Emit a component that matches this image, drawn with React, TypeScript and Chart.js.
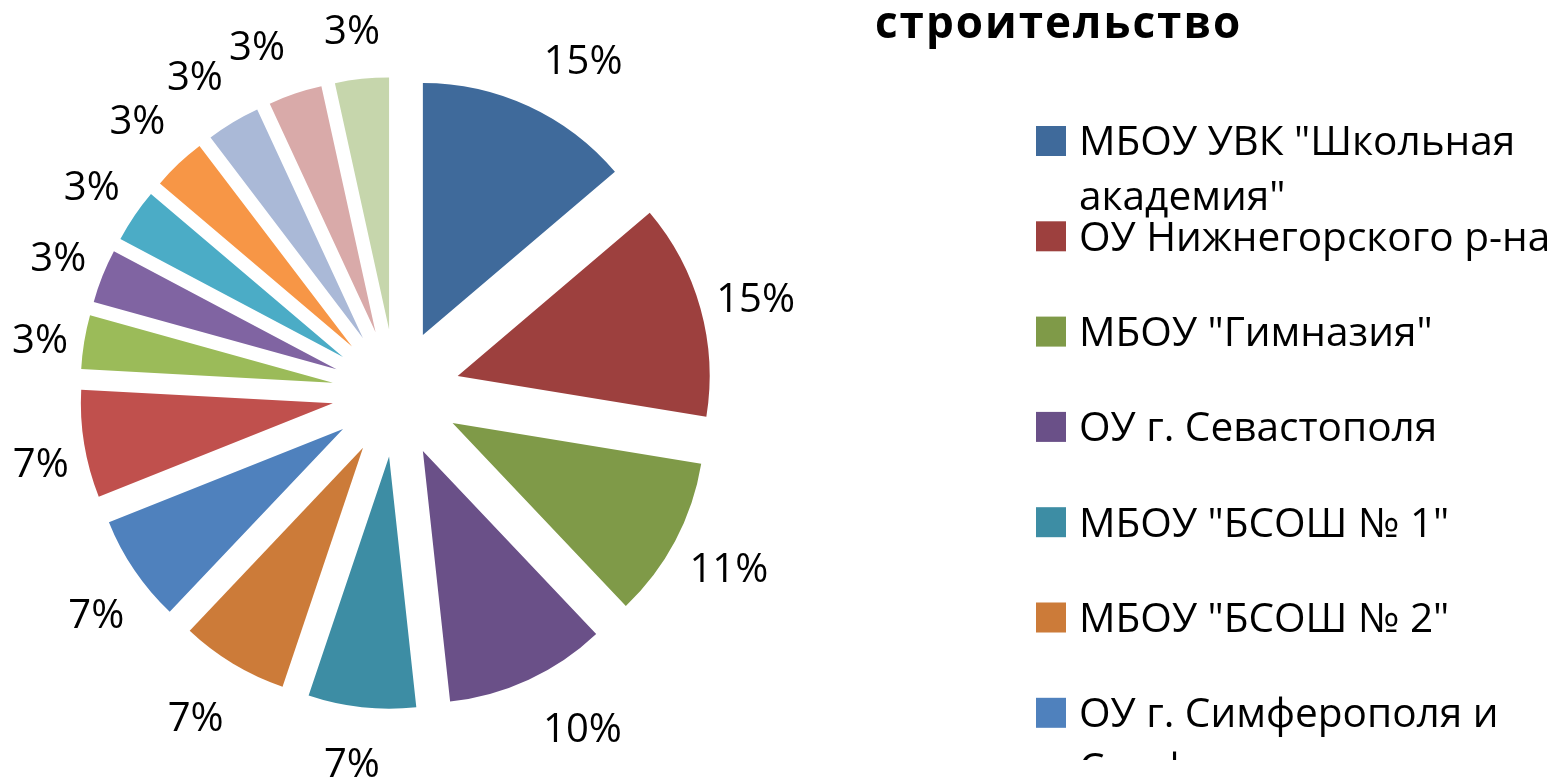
import React, { useEffect, useRef } from "react";
import { Chart, registerables } from "chart.js";

Chart.register(...registerables);

// ---- data ----
const titleText = "строительство";

const categories: string[] = [
  'МБОУ УВК "Школьная академия"',
  "ОУ Нижнегорского р-на",
  'МБОУ "Гимназия"',
  "ОУ г. Севастополя",
  'МБОУ "БСОШ № 1"',
  'МБОУ "БСОШ № 2"',
  "ОУ г. Симферополя и Симферопольского р-на",
  "Участник 8",
  "Участник 9",
  "Участник 10",
  "Участник 11",
  "Участник 12",
  "Участник 13",
  "Участник 14",
  "Участник 15",
];

const shares: number[] = [4, 4, 3, 3, 2, 2, 2, 2, 1, 1, 1, 1, 1, 1, 1];

const percentLabels: string[] = [
  "15%", "15%", "11%", "10%", "7%", "7%", "7%", "7%",
  "3%", "3%", "3%", "3%", "3%", "3%", "3%",
];

const sliceColors: string[] = [
  "#3F6A9B", "#9D403E", "#7F9A48", "#6A5088", "#3D8DA4", "#CC7B39",
  "#4F81BD", "#C0504D", "#9BBB59", "#8064A2", "#4BACC6", "#F79646",
  "#AAB9D7", "#D9AAA9", "#C6D6AC",
];

// label layout tweaks (relative to slice bisector), like Excel's best-fit placement
const labelNudgeDeg: number[] = [4.5, 0.7, -0.2, -4.3, 0.6, 0.7, -2.2, -1.8, -0.7, 0.2, 0.1, 0, -1.3, -3.2, -0.7];
const labelNudgeR: number[] = [12, 2, 6, 13, 2, 11, 2, -8, -10, -6, -2, 6, 6, 4, -4];

// ---- layout constants ----
const W = 1566;
const H = 779;
const PIE_RADIUS = 252;
const EXPLODE = 64;
const LABEL_DIST = 370;
const FONT = '"Open Sans", "Noto Sans", sans-serif';
const LABEL_SIZE = 40;
const LEGEND_SIZE = 40.6;
const TITLE_SIZE = 44;
const LEGEND_CLIP_BOTTOM = 760;

const explodePlugin = {
  id: "explodeSlices",
  afterDatasetsUpdate(chart: any) {
    const meta = chart.getDatasetMeta(0);
    meta.data.forEach((arc: any) => {
      const mid = (arc.startAngle + arc.endAngle) / 2;
      arc.x += Math.cos(mid) * EXPLODE;
      arc.y += Math.sin(mid) * EXPLODE;
    });
  },
};

const labelPlugin = {
  id: "sliceLabels",
  afterDatasetsDraw(chart: any) {
    const { ctx, chartArea } = chart;
    const cx = (chartArea.left + chartArea.right) / 2;
    const cy = (chartArea.top + chartArea.bottom) / 2;
    const meta = chart.getDatasetMeta(0);
    ctx.save();
    ctx.font = `${LABEL_SIZE}px ${FONT}`;
    ctx.fillStyle = "#000";
    ctx.textAlign = "center";
    ctx.textBaseline = "alphabetic";
    const capHalf = (LABEL_SIZE * 0.714) / 2;
    meta.data.forEach((arc: any, i: number) => {
      const mid = (arc.startAngle + arc.endAngle) / 2 + (labelNudgeDeg[i] * Math.PI) / 180;
      const r = LABEL_DIST + labelNudgeR[i];
      const x = cx + Math.cos(mid) * r;
      const y = cy + Math.sin(mid) * r;
      ctx.fillText(percentLabels[i], x, y + capHalf);
    });
    ctx.restore();
  },
};

function wrapText(ctx: CanvasRenderingContext2D, text: string, maxW: number): string[] {
  const words = text.split(" ");
  const lines: string[] = [];
  let cur = "";
  for (const w of words) {
    const test = cur ? cur + " " + w : w;
    if (ctx.measureText(test).width > maxW && cur) {
      lines.push(cur);
      cur = w;
    } else {
      cur = test;
    }
  }
  if (cur) lines.push(cur);
  return lines;
}

const legendPlugin = {
  id: "sideLegend",
  afterDraw(chart: any) {
    const { ctx } = chart;
    const labels: string[] = chart.data.labels;
    const colors: string[] = chart.data.datasets[0].backgroundColor;
    ctx.save();
    // title
    ctx.font = `bold ${TITLE_SIZE}px ${FONT}`;
    ctx.fillStyle = "#000";
    ctx.textAlign = "left";
    ctx.textBaseline = "alphabetic";
    try {
      (ctx as any).letterSpacing = "2px";
    } catch (e) {}
    ctx.fillText(titleText, 875, 38);
    try {
      (ctx as any).letterSpacing = "0px";
    } catch (e) {}
    ctx.restore();

    // legend (clipped by its box like the original)
    ctx.save();
    ctx.beginPath();
    ctx.rect(1000, 60, W - 1000, LEGEND_CLIP_BOTTOM - 60);
    ctx.clip();
    const boxX = 1036;
    const box = 30;
    const textX = 1079;
    const firstY = 141;
    const step = 95.3;
    const lineH = 55;
    const capHalf = (LEGEND_SIZE * 0.714) / 2;
    ctx.font = `${LEGEND_SIZE}px ${FONT}`;
    ctx.textAlign = "left";
    ctx.textBaseline = "alphabetic";
    labels.forEach((lab, i) => {
      const cy = firstY + i * step;
      ctx.fillStyle = colors[i];
      ctx.fillRect(boxX, cy - box / 2, box, box);
      ctx.fillStyle = "#000";
      const lines = wrapText(ctx, lab, W - textX - 4);
      lines.forEach((ln, k) => {
        ctx.fillText(ln, textX, cy + capHalf + k * lineH);
      });
    });
    ctx.restore();
  },
};

export default function App() {
  const canvasRef = useRef<HTMLCanvasElement | null>(null);

  useEffect(() => {
    const canvas = canvasRef.current;
    if (!canvas) return;
    const chart = new Chart(canvas, {
      type: "pie",
      data: {
        labels: categories,
        datasets: [
          {
            data: shares,
            backgroundColor: sliceColors,
            borderWidth: 0,
          },
        ],
      },
      options: {
        responsive: false,
        animation: false,
        events: [],
        radius: PIE_RADIUS,
        layout: { padding: { left: 0, right: 774, top: 7, bottom: 0 } },
        plugins: {
          legend: { display: false },
          title: { display: false },
          tooltip: { enabled: false },
        },
      } as any,
      plugins: [explodePlugin, labelPlugin, legendPlugin],
    });
    return () => chart.destroy();
  }, []);

  return (
    <div style={{ position: "fixed", left: 0, top: 0, width: W, height: H, overflow: "hidden", background: "#fff" }}>
      <canvas ref={canvasRef} width={W} height={H} style={{ display: "block", width: W, height: H }} />
    </div>
  );
}
